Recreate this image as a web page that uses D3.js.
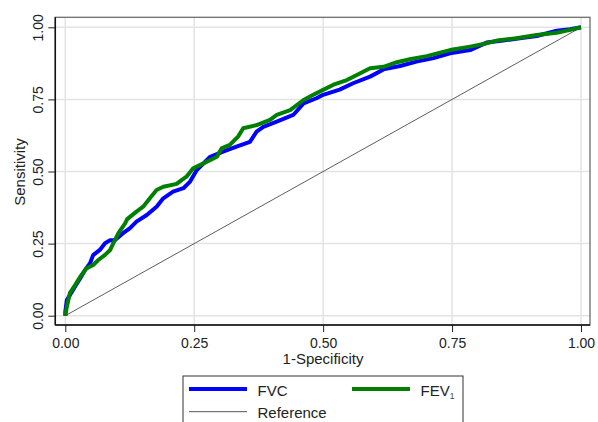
<!DOCTYPE html>
<html lang="en">
<head>
<meta charset="UTF-8">
<title>ROC curves</title>
<style>
  body, html { margin: 0; padding: 0; background: #fff; }
  svg { display: block; font-family: "Liberation Sans", Arial, sans-serif; }
</style>
</head>
<body>
<div id="container"></div>
<script src="https://d3js.org/d3.v7.min.js"></script>
<script>
// -------- DATA -----------------------------------
const ticks = [0, 0.25, 0.5, 0.75, 1]

// FVC curve: [1-specificity, sensitivity]
const fvcX = [0, 0, 0.003, 0.009, 0.019, 0.029, 0.038, 0.048, 0.054, 0.067, 0.077, 0.087, 0.096, 0.112, 0.125, 0.138, 0.158, 0.177, 0.190, 0.209, 0.229, 0.242, 0.255, 0.281, 0.306, 0.332, 0.358, 0.371, 0.384, 0.410, 0.442, 0.462, 0.487, 0.500, 0.532, 0.558, 0.591, 0.617, 0.649, 0.681, 0.714, 0.746, 0.785, 0.817, 0.849, 0.881, 0.914, 0.953, 0.979, 1]
const fvcY = [0, 0.014, 0.054, 0.072, 0.101, 0.130, 0.158, 0.182, 0.210, 0.228, 0.251, 0.262, 0.262, 0.286, 0.303, 0.326, 0.349, 0.378, 0.407, 0.430, 0.442, 0.465, 0.505, 0.551, 0.569, 0.586, 0.603, 0.638, 0.655, 0.673, 0.696, 0.736, 0.754, 0.766, 0.784, 0.806, 0.829, 0.854, 0.866, 0.881, 0.893, 0.910, 0.921, 0.947, 0.954, 0.962, 0.970, 0.988, 0.993, 1]

// FEV1 curve
const fevX = [0, 0.003, 0.009, 0.019, 0.029, 0.041, 0.054, 0.064, 0.077, 0.087, 0.093, 0.103, 0.116, 0.120, 0.138, 0.151, 0.164, 0.177, 0.190, 0.216, 0.226, 0.235, 0.248, 0.268, 0.294, 0.303, 0.319, 0.335, 0.345, 0.371, 0.397, 0.410, 0.436, 0.462, 0.480, 0.500, 0.520, 0.546, 0.571, 0.591, 0.617, 0.643, 0.668, 0.701, 0.727, 0.746, 0.785, 0.811, 0.837, 0.875, 0.914, 0.953, 0.979, 1]
const fevY = [0, 0.031, 0.079, 0.106, 0.135, 0.164, 0.176, 0.193, 0.211, 0.228, 0.251, 0.286, 0.320, 0.335, 0.361, 0.378, 0.407, 0.436, 0.447, 0.457, 0.471, 0.482, 0.511, 0.528, 0.551, 0.580, 0.592, 0.621, 0.650, 0.661, 0.679, 0.696, 0.713, 0.748, 0.765, 0.783, 0.801, 0.817, 0.840, 0.858, 0.863, 0.879, 0.889, 0.900, 0.912, 0.921, 0.933, 0.942, 0.954, 0.962, 0.973, 0.981, 0.991, 1]

const refX = [0, 1]
const refY = [0, 1]

// -------- LAYOUT ------------
const W = 598, H = 422
const frame = {left: 55.3, right: 590, top: 17.3, bottom: 325}

const svg = d3.select('#container')
  .append('svg')
  .attr('width', W)
  .attr('height', H)

const xScale = d3.scaleLinear().domain([0, 1]).range([65.3, 581])
const yScale = d3.scaleLinear().domain([0, 1]).range([315.7, 27.3])

// gridlines
svg.append('g')
  .selectAll('line.vg')
  .data(ticks)
  .join('line')
  .attr('x1', d => xScale(d)).attr('x2', d => xScale(d))
  .attr('y1', frame.top).attr('y2', frame.bottom)
  .attr('stroke', '#e3e3e3').attr('stroke-width', 1.5)
svg.append('g')
  .selectAll('line.hg')
  .data(ticks)
  .join('line')
  .attr('y1', d => yScale(d)).attr('y2', d => yScale(d))
  .attr('x1', frame.left).attr('x2', frame.right)
  .attr('stroke', '#e3e3e3').attr('stroke-width', 1.5)

// frame (top & right in gray)
svg.append('rect')
  .attr('x', frame.left).attr('y', frame.top)
  .attr('width', frame.right - frame.left)
  .attr('height', frame.bottom - frame.top)
  .attr('fill', 'none').attr('stroke', '#6e6e6e').attr('stroke-width', 1.3)

// -------- CURVES ------------
const line = d3.line()
  .x(d => xScale(d[0]))
  .y(d => yScale(d[1]))

svg.append('path')
  .datum(d3.zip(refX, refY))
  .attr('d', line)
  .attr('fill', 'none').attr('stroke', '#333').attr('stroke-width', 0.8)

svg.append('path')
  .datum(d3.zip(fvcX, fvcY))
  .attr('d', line)
  .attr('fill', 'none').attr('stroke', '#0000ff').attr('stroke-width', 4)
  .attr('stroke-linejoin', 'round')

svg.append('path')
  .datum(d3.zip(fevX, fevY))
  .attr('d', line)
  .attr('fill', 'none').attr('stroke', '#008000').attr('stroke-width', 4)
  .attr('stroke-linejoin', 'round')

// -------- AXES ------------
const fmt = d3.format('.2f')

const gx = svg.append('g')
  .attr('transform', `translate(0, ${frame.bottom})`)
  .call(d3.axisBottom(xScale).tickValues(ticks).tickFormat(fmt).tickSize(7).tickPadding(6))
gx.select('.domain').remove()
gx.selectAll('line').attr('stroke', '#222')
gx.selectAll('text').attr('fill', '#222').style('font-size', '14px')

const gy = svg.append('g')
  .attr('transform', `translate(${frame.left}, 0)`)
  .call(d3.axisLeft(yScale).tickValues(ticks).tickFormat(fmt).tickSize(7))
gy.select('.domain').remove()
gy.selectAll('line').attr('stroke', '#222')
gy.selectAll('text')
  .attr('fill', '#222')
  .style('font-size', '14px')
  .attr('transform', 'rotate(-90)')
  .attr('x', 0).attr('y', -12).attr('dy', 0)
  .style('text-anchor', 'middle')

// axis lines (left & bottom dark)
svg.append('line')
  .attr('x1', frame.left).attr('x2', frame.left)
  .attr('y1', frame.top).attr('y2', frame.bottom)
  .attr('stroke', '#111').attr('stroke-width', 1.5)
svg.append('line')
  .attr('x1', frame.left).attr('x2', frame.right)
  .attr('y1', frame.bottom).attr('y2', frame.bottom)
  .attr('stroke', '#111').attr('stroke-width', 1.5)

// axis titles
svg.append('text')
  .attr('x', 323).attr('y', 363.5)
  .attr('text-anchor', 'middle')
  .style('font-size', '15px').attr('fill', '#222')
  .text('1-Specificity')
svg.append('text')
  .attr('transform', 'translate(25, 172) rotate(-90)')
  .attr('text-anchor', 'middle')
  .style('font-size', '15px').attr('fill', '#222')
  .text('Sensitivity')

// -------- LEGEND ------------
const legend = svg.append('g')
legend.append('rect')
  .attr('x', 183).attr('y', 376)
  .attr('width', 280).attr('height', 60)
  .attr('fill', '#fff').attr('stroke', '#333').attr('stroke-width', 1)

const items = [
  {label: 'FVC', color: '#0000ff', w: 4, x: 189, y: 389},
  {label: 'FEV', sub: '1', color: '#008000', w: 4, x: 352, y: 389},
  {label: 'Reference', color: '#555', w: 1, x: 189, y: 411.7}
]
items.forEach(it => {
  legend.append('line')
    .attr('x1', it.x).attr('x2', it.x + 58)
    .attr('y1', it.y).attr('y2', it.y)
    .attr('stroke', it.color).attr('stroke-width', it.w)
  const t = legend.append('text')
    .attr('x', it.x + 68.5).attr('y', it.y + 6.5)
    .style('font-size', '15px').attr('fill', '#222')
    .text(it.label)
  if (it.sub) {
    t.append('tspan').attr('dy', 3).style('font-size', '8.5px').attr('fill', '#444').text(it.sub)
  }
})
</script>
</body>
</html>
